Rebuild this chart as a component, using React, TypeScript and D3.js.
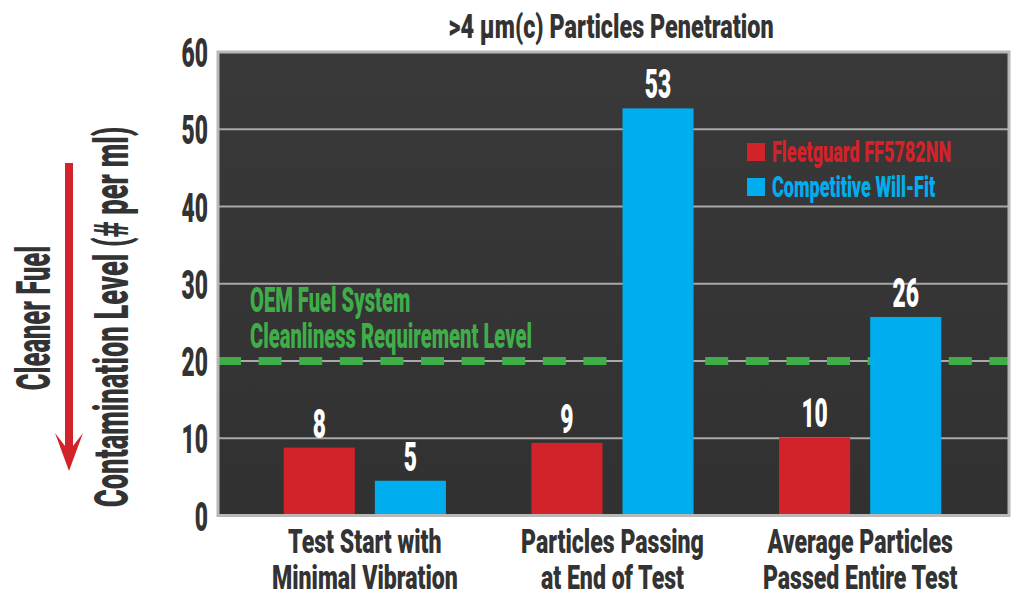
import React from "react";
import * as d3 from "d3";

const categories = ["Test Start", "End of Test", "Entire Test"];
const categoryLines = [
  ["Test Start with", "Minimal Vibration"],
  ["Particles Passing", "at End of Test"],
  ["Average Particles", "Passed Entire Test"],
];
const seriesNames = ["Fleetguard FF5782NN", "Competitive Will-Fit"];
const fleetguardValues = [8.8, 9.4, 10.1];
const willFitValues = [4.5, 52.7, 25.7];
const fleetguardLabels = ["8", "9", "10"];
const willFitLabels = ["5", "53", "26"];
const yTicks = [0, 10, 20, 30, 40, 50, 60];
const requirementLevel = 20;
const requirementText = ["OEM Fuel System", "Cleanliness Requirement Level"];
const titleText = ">4 µm(c) Particles Penetration";
const yLabel = "Contamination Level (# per ml)";
const arrowLabel = "Cleaner Fuel";

const RED = "#d2232a";
const BLUE = "#00aeef";
const GREEN = "#3fae49";
const DARK = "#333333";
const FONT = "Roboto, 'Liberation Sans', sans-serif";

const W = 1015;
const H = 603;
const plot = { left: 218, right: 1009, top: 52, bottom: 515.5 };

type TP = {
  x: number;
  y: number;
  size: number;
  sx: number;
  sy?: number;
  anchor?: "start" | "middle" | "end";
  fill?: string;
  rotate?: number;
  children: React.ReactNode;
};

function T({ x, y, size, sx, sy = 1.08, anchor = "start", fill = DARK, rotate = 0, children }: TP) {
  return (
    <text
      transform={`translate(${x},${y}) rotate(${rotate}) scale(${sx},${sy})`}
      textAnchor={anchor}
      fontSize={size}
      fontWeight={900}
      fontFamily={FONT}
      fill={fill}
    >
      {children}
    </text>
  );
}

export default function App() {
  const y = d3.scaleLinear().domain([0, 60]).range([plot.bottom, plot.top]);
  const x0 = d3.scaleBand<string>().domain(categories).range([241, 984]).padding(0);
  const x1 = d3
    .scaleBand<string>()
    .domain(seriesNames)
    .range([42.75, x0.bandwidth() - 42.75])
    .paddingInner(0.2198)
    .paddingOuter(0);

  const series = [
    { name: seriesNames[0], values: fleetguardValues, labels: fleetguardLabels, color: RED },
    { name: seriesNames[1], values: willFitValues, labels: willFitLabels, color: BLUE },
  ];

  return (
    <svg width={W} height={H} style={{ position: "absolute", left: 0, top: 0, background: "#fff" }}>
      <defs>
        <linearGradient id="bg" x1="0" y1="0" x2="0" y2="1">
          <stop offset="0" stopColor="#393939" />
          <stop offset="1" stopColor="#313131" />
        </linearGradient>
      </defs>
      {/* title */}
      <T x={611} y={37.5} size={30} sx={0.78} anchor="middle">
        {titleText}
      </T>

      {/* plot background */}
      <rect
        x={plot.left}
        y={plot.top}
        width={plot.right - plot.left}
        height={plot.bottom - plot.top}
        fill="url(#bg)"
      />
      {/* gridlines */}
      {yTicks
        .filter((t) => t > 0 && t < 60)
        .map((t) => (
          <line
            key={t}
            x1={plot.left}
            x2={plot.right}
            y1={y(t)}
            y2={y(t)}
            stroke="#a9a9a9"
            strokeWidth={2}
          />
        ))}

      {/* requirement dashed line */}
      <line
        x1={plot.left}
        x2={plot.right}
        y1={y(requirementLevel)}
        y2={y(requirementLevel)}
        stroke={GREEN}
        strokeWidth={8}
        strokeDasharray="23 17.6"
      />
      <T x={250} y={312} size={32} sx={0.63} fill={GREEN}>
        {requirementText[0]}
      </T>
      <T x={250} y={348} size={32} sx={0.63} fill={GREEN}>
        {requirementText[1]}
      </T>

      {/* bars */}
      {series.map((s) =>
        categories.map((c, i) => {
          const bx = (x0(c) as number) + (x1(s.name) as number);
          return (
            <g key={s.name + c}>
              <rect
                x={bx}
                y={y(s.values[i])}
                width={x1.bandwidth()}
                height={y(0) - y(s.values[i])}
                fill={s.color}
              />
              <T x={bx + x1.bandwidth() / 2} y={y(s.values[i]) - 10} size={38} sx={0.6} anchor="middle" fill="#ffffff">
                {s.labels[i]}
              </T>
            </g>
          );
        })
      )}

      {/* border */}
      <rect
        x={plot.left}
        y={plot.top}
        width={plot.right - plot.left}
        height={plot.bottom - plot.top}
        fill="none"
        stroke="#b8b8b8"
        strokeWidth={3}
      />

      {/* legend */}
      {series.map((s, i) => (
        <g key={s.name}>
          <rect x={747} y={143 + i * 35} width={18} height={18} fill={s.color} />
          <T x={772} y={162 + i * 35} size={28} sx={0.645} fill={s.color}>
            {s.name}
          </T>
        </g>
      ))}

      {/* y ticks */}
      {yTicks.map((t) => (
        <T key={t} x={208} y={y(t) + 15} size={38} sx={0.6} anchor="end">
          {String(t)}
        </T>
      ))}

      {/* category labels */}
      {categories.map((c, i) => {
        const cx = (x0(c) as number) + x0.bandwidth() / 2;
        return (
          <g key={c}>
            <T x={cx} y={553} size={30} sx={0.77} anchor="middle">
              {categoryLines[i][0]}
            </T>
            <T x={cx} y={589} size={30} sx={0.77} anchor="middle">
              {categoryLines[i][1]}
            </T>
          </g>
        );
      })}

      {/* y axis label */}
      <T x={128} y={317} size={44} sx={0.62} anchor="middle" rotate={-90}>
        {yLabel}
      </T>
      <T x={50} y={318} size={44} sx={0.58} anchor="middle" rotate={-90}>
        {arrowLabel}
      </T>

      {/* arrow */}
      <rect x={65} y={163} width={8} height={284} fill={RED} />
      <polygon points="65,446 55,433 69,471 83,433 73,446" fill={RED} />
    </svg>
  );
}
